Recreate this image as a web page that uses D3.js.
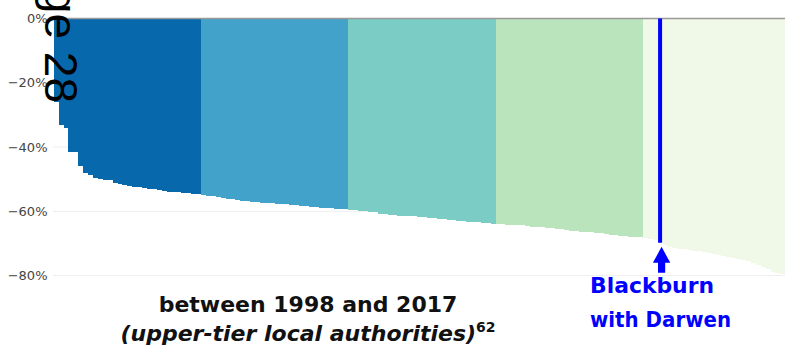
<!DOCTYPE html>
<html>
<head>
<meta charset="utf-8">
<script src="https://cdn.jsdelivr.net/npm/d3@7"></script>
<style>
  html, body { margin: 0; padding: 0; background: #fff; }
  svg { display: block; }
</style>
</head>
<body>
<svg id="chart" width="785" height="353"></svg>
<script>
// Change in spending power (%) per upper-tier local authority, 1998-2017,
// ordered from smallest to largest cut and split into quintiles.
const q1Values = [-26.0, -33.0, -34.0, -41.4, -41.6, -45.8, -48.2, -48.6, -49.7, -50.0,
                  -50.2, -50.4, -51.3, -51.5, -51.7, -52.0, -52.3, -52.5, -52.8, -53.0,
                  -53.2, -53.5, -53.7, -53.9, -54.0, -54.1, -54.3, -54.4, -54.5, -54.7];
const q2Values = [-55.0, -55.1, -55.3, -55.5, -55.8, -56.1, -56.3, -56.6, -56.8, -56.9,
                  -57.0, -57.1, -57.3, -57.4, -57.5, -57.6, -57.7, -57.8, -57.9, -58.1,
                  -58.3, -58.4, -58.5, -58.8, -59.0, -59.1, -59.1, -59.2, -59.3, -59.4];
const q3Values = [-59.6, -59.7, -59.8, -59.9, -60.1, -60.3, -60.8, -60.9, -61.0, -61.2,
                  -61.3, -61.4, -61.5, -61.6, -61.7, -61.9, -62.1, -62.2, -62.3, -62.5,
                  -62.7, -62.8, -62.9, -63.0, -63.2, -63.3, -63.4, -63.5, -63.7, -63.8];
const q4Values = [-63.9, -64.0, -64.1, -64.2, -64.3, -64.4, -64.6, -64.8, -64.9, -65.0,
                  -65.2, -65.3, -65.4, -65.6, -65.8, -66.0, -66.1, -66.3, -66.4, -66.5,
                  -66.7, -66.9, -67.1, -67.3, -67.4, -67.6, -67.8, -67.9, -68.0, -68.1];
const q5Values = [-68.3, -68.6, -69.0, -69.8, -70.5, -71.0, -71.3, -71.6, -71.8, -72.1,
                  -72.3, -72.5, -72.8, -73.0, -73.2, -73.6, -73.9, -74.1, -74.4, -74.8,
                  -75.2, -75.6, -76.1, -76.7, -77.3, -77.8, -78.8, -79.2, -79.4, -80.0];

const quintileColors = ["#0868ac", "#43a2ca", "#7bccc4", "#bae4bc", "#f0f9e8"];
const yTicks = [0, -20, -40, -60, -80];

// Highlighted authority: position within the ordered list
const highlightName = ["Blackburn", "with Darwen"];
const highlightRank = 123;

const titleLines = ["between 1998 and 2017", "(upper-tier local authorities)"];
const footnoteRef = "62";
const pageLabel = "Page 28";

// ---------------------------------------------------------------------------
const quintiles = [q1Values, q2Values, q3Values, q4Values, q5Values];
const data = [];
quintiles.forEach((vals, q) => vals.forEach(v => data.push({ rank: data.length, value: v, q })));

const svg = d3.select("#chart");
const plotLeft = 53.7, barStep = 4.91;

const x = d3.scaleBand()
  .domain(data.map(d => d.rank))
  .range([plotLeft, plotLeft + barStep * data.length])
  .paddingInner(0).paddingOuter(0);

const y = d3.scaleLinear().domain([-80, 0]).range([275.6, 18.5]);

// grid lines
svg.append("g")
  .selectAll("line")
  .data(yTicks.filter(t => t !== 0))
  .join("line")
  .attr("x1", 53).attr("x2", 785)
  .attr("y1", d => y(d)).attr("y2", d => y(d))
  .attr("stroke", "#eeeeee").attr("stroke-width", 1);

// bars: snapped to whole pixels so neighbouring bars meet without seams
svg.append("g")
  .attr("shape-rendering", "crispEdges")
  .selectAll("rect")
  .data(data)
  .join("rect")
  .attr("x", d => Math.round(x(d.rank)))
  .attr("width", d => Math.round(x(d.rank) + x.bandwidth()) - Math.round(x(d.rank)))
  .attr("y", Math.round(y(0)))
  .attr("height", d => Math.round(y(d.value)) - Math.round(y(0)))
  .attr("fill", d => quintileColors[d.q]);

// y axis labels
const yAxis = d3.axisLeft(y).tickValues(yTicks).tickSize(0).tickPadding(0)
  .tickFormat(d => d3.format(".0%")(d / 100).replace("-", "\u2212"));
svg.append("g")
  .attr("transform", "translate(47.5,0)")
  .call(yAxis)
  .call(g => g.select(".domain").remove())
  .call(g => g.selectAll("text")
    .attr("fill", "#444")
    .attr("font-family", "DejaVu Sans, sans-serif")
    .attr("font-size", 13));

// zero line
svg.append("line")
  .attr("x1", 53).attr("x2", 785)
  .attr("y1", y(0)).attr("y2", y(0))
  .attr("stroke", "#999").attr("stroke-width", 1.5);

// highlighted authority
const hl = data[highlightRank];
const hx = x(hl.rank) + x.bandwidth() / 2;
svg.append("line")
  .attr("x1", hx).attr("x2", hx)
  .attr("y1", y(0)).attr("y2", y(hl.value))
  .attr("stroke", "#0000ff").attr("stroke-width", 4);

const ax = hx + 1.5, tipY = y(hl.value) + 4;
svg.append("path")
  .attr("d", `M${ax},${tipY} L${ax + 8.7},${tipY + 16} L${ax + 3.6},${tipY + 16}
              L${ax + 3.6},${tipY + 26} L${ax - 3.6},${tipY + 26} L${ax - 3.6},${tipY + 16}
              L${ax - 8.7},${tipY + 16} Z`)
  .attr("fill", "#0000ff");

const hlText = svg.append("g")
  .attr("font-family", "DejaVu Sans, sans-serif")
  .attr("font-weight", "bold")
  .attr("font-size", 22)
  .attr("fill", "#0000ff");
hlText.append("text").attr("x", 590).attr("y", 293)
  .attr("textLength", 124).attr("lengthAdjust", "spacingAndGlyphs")
  .text(highlightName[0]);
hlText.append("text").attr("x", 590).attr("y", 327)
  .attr("textLength", 141).attr("lengthAdjust", "spacingAndGlyphs")
  .text(highlightName[1]);

// caption below the chart
const cap = svg.append("g")
  .attr("font-family", "DejaVu Sans, sans-serif")
  .attr("font-weight", "bold")
  .attr("font-size", 22)
  .attr("fill", "#111")
  .attr("text-anchor", "middle");
cap.append("text").attr("x", 308).attr("y", 312).text(titleLines[0]);
const line2 = cap.append("text").attr("x", 308).attr("y", 341);
line2.append("tspan").attr("font-style", "italic").text(titleLines[1]);
line2.append("tspan").attr("font-size", 14).attr("dy", -9).text(footnoteRef);

// page marker running down the left edge
svg.append("text")
  .attr("transform", "translate(45,103) rotate(90)")
  .attr("text-anchor", "end")
  .attr("font-family", "Liberation Sans, Arial, sans-serif")
  .attr("font-size", 46)
  .attr("fill", "#000")
  .text(pageLabel);
</script>
</body>
</html>
